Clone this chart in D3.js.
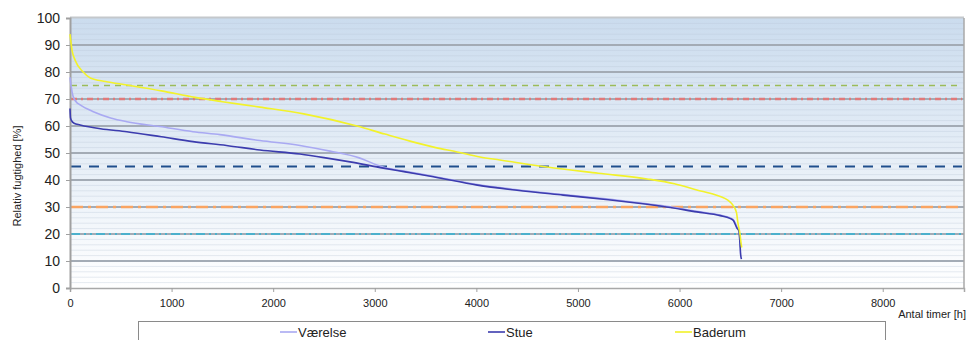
<!DOCTYPE html>
<html><head><meta charset="utf-8">
<script src="https://cdn.jsdelivr.net/npm/d3@7"></script>
<style>body{margin:0;background:#fff;font-family:"Liberation Sans",Arial,sans-serif}</style>
</head><body><svg id="c" width="968" height="340"></svg>
<script>
// ---- data ----
const yTicks = [0,10,20,30,40,50,60,70,80,90,100];
const xTicks = [0,1000,2000,3000,4000,5000,6000,7000,8000];
const seriesNames = ["Værelse","Stue","Baderum"];
const vaerelseHours = [0,10,30,60,100,230,400,560,886,1210,1476,1870,2264,2559,2854,3020,3100,3300,3576,4010,4400,4855,5300,5680,5807,6170,6400,6496,6530,6565,6585,6594,6600];
const vaerelseRH    = [78,75,71,69,67.8,65.3,63,61.6,59.8,57.9,56.8,54.6,52.8,50.7,48.1,45.6,44.6,43.2,41.4,38.3,36.4,34.6,32.9,31.2,30.6,28.4,27,26,25.3,22.6,21.3,18,15];
const stueHours = [0,5,15,40,100,300,560,900,1210,1540,1870,2264,2500,2756,3084,3300,3576,4010,4400,4855,5300,5680,5807,6170,6400,6496,6530,6565,6585,6594,6600,6609];
const stueRH    = [66.5,63,62,61,60.4,59,57.9,56,54.2,52.8,51.1,49.6,48.3,46.7,44.4,43,41.2,38.1,36.2,34.4,32.7,31.0,30.4,28.2,26.8,25.8,25,22.2,21,17,13,10.7];
const baderumHours = [0,20,50,130,200,350,560,900,1230,1500,1870,2300,2825,3100,3346,3600,3810,4035,4232,4695,5200,5680,5950,6170,6350,6496,6525,6560,6575,6595,6604,6612];
const baderumRH    = [94,88,84.4,80,77.8,76.5,75.2,73,70.6,69,67,64.5,60,57,54.4,52,50.4,48.5,47.4,44.8,42.5,40.4,38.6,36.3,34.5,31.9,30.7,28,24,20,17,15];
const refLevels = [75,70,45,30,20];

// ---- layout ----
const svg = d3.select("#c");
const L=70, R=964, T=18, B=288;
const x = d3.scaleLinear().domain([0,8800]).range([L,R]);
const y = d3.scaleLinear().domain([0,100]).range([B,T]);

const defs = svg.append("defs");
const g = defs.append("linearGradient").attr("id","bg").attr("x1",0).attr("y1",0).attr("x2",0).attr("y2",1);
g.append("stop").attr("offset","0%").attr("stop-color","#cbdcee");
g.append("stop").attr("offset","100%").attr("stop-color","#ffffff");

svg.append("rect").attr("x",L).attr("y",T).attr("width",R-L).attr("height",B-T).attr("fill","url(#bg)");

// minor grid
svg.append("g").selectAll("line").data(d3.range(2,100,2).filter(v=>v%10!==0)).join("line")
  .attr("x1",L).attr("x2",R).attr("y1",d=>y(d)).attr("y2",d=>y(d))
  .attr("stroke","#b8c6d6").attr("stroke-opacity",0.35).attr("stroke-width",1);
// major grid
svg.append("g").selectAll("line").data(yTicks.filter(v=>v>0&&v<100)).join("line")
  .attr("x1",L).attr("x2",R).attr("y1",d=>y(d)).attr("y2",d=>y(d))
  .attr("stroke","#a3abb5").attr("stroke-width",2);
// frame
svg.append("line").attr("x1",L).attr("x2",R).attr("y1",T-0.5).attr("y2",T-0.5).attr("stroke","#c4c8cc").attr("stroke-width",2);
svg.append("line").attr("x1",R).attr("x2",R).attr("y1",T).attr("y2",B).attr("stroke","#a8a8a8").attr("stroke-width",1.5);

// reference lines
const refStyles = {
  75:{c:"#9bbb59",w:1.6,d:"6,5"},
  70:{c:"#e07a7a",w:2.5,d:"6,4,2,4"},
  45:{c:"#1f4e8c",w:2,d:"10,8"},
  30:{c:"#f9a462",w:2.5,d:"12,5,3,5"},
  20:{c:"#4bb0cc",w:2,d:"9,4,2,4,2,4"}
};
svg.append("g").selectAll("line").data(refLevels).join("line")
  .attr("x1",L+1).attr("x2",R-2).attr("y1",d=>y(d)).attr("y2",d=>y(d))
  .attr("stroke",d=>refStyles[d].c).attr("stroke-width",d=>refStyles[d].w)
  .attr("stroke-dasharray",d=>refStyles[d].d);

// axes
const yAxis = svg.append("g").attr("transform",`translate(${L},0)`)
  .call(d3.axisLeft(y).tickValues(yTicks).tickSize(4).tickPadding(6));
yAxis.select(".domain").attr("stroke","#a0a0a0").attr("stroke-width",2);
yAxis.selectAll(".tick line").attr("stroke","#a0a0a0");
yAxis.selectAll("text").attr("font-size",14).attr("fill","#222").attr("font-family","Liberation Sans, Arial, sans-serif");

const xAxis = svg.append("g").attr("transform",`translate(0,${B})`)
  .call(d3.axisBottom(x).tickValues(xTicks).tickSize(4).tickPadding(7).tickFormat(d3.format("d")));
xAxis.select(".domain").attr("stroke","#a8a8a8").attr("stroke-width",1.5);
xAxis.selectAll(".tick line").attr("stroke","#a0a0a0");
xAxis.selectAll("text").attr("font-size",11).attr("fill","#222").attr("font-family","Liberation Sans, Arial, sans-serif");

// titles
svg.append("text").attr("transform","translate(21,176) rotate(-90)").attr("text-anchor","middle")
  .attr("font-size",11).attr("fill","#222").text("Relativ fugtighed [%]");
svg.append("text").attr("x",966).attr("y",318).attr("text-anchor","end")
  .attr("font-size",11).attr("fill","#222").text("Antal timer [h]");

// series
const colors = {"Værelse":"#a9a9f2","Stue":"#3c3cae","Baderum":"#f2f22a"};
const seriesData = [
  {name:"Værelse",h:vaerelseHours,v:vaerelseRH},
  {name:"Stue",h:stueHours,v:stueRH},
  {name:"Baderum",h:baderumHours,v:baderumRH}
];
const line = d3.line().x(d=>x(d[0])).y(d=>y(d[1])).curve(d3.curveMonotoneX);
svg.append("g").selectAll("path").data(seriesData).join("path")
  .attr("d",s=>line(s.h.map((h,i)=>[h,s.v[i]])))
  .attr("fill","none").attr("stroke",s=>colors[s.name]).attr("stroke-width",1.6)
  .attr("stroke-linejoin","round");

// legend
svg.append("rect").attr("x",138.5).attr("y",321.5).attr("width",747).attr("height",30)
  .attr("fill","#fff").attr("stroke","#8a8a8a");
const legendX = {"Værelse":280,"Stue":488,"Baderum":675};
const lg = svg.append("g").selectAll("g").data(seriesNames).join("g")
  .attr("transform",d=>`translate(${legendX[d]},332)`);
lg.append("line").attr("x1",0).attr("x2",17).attr("stroke",d=>colors[d]).attr("stroke-width",1.6);
lg.append("text").attr("x",18).attr("y",4.5).attr("font-size",13).attr("fill","#222").text(d=>d);
</script></body></html>
